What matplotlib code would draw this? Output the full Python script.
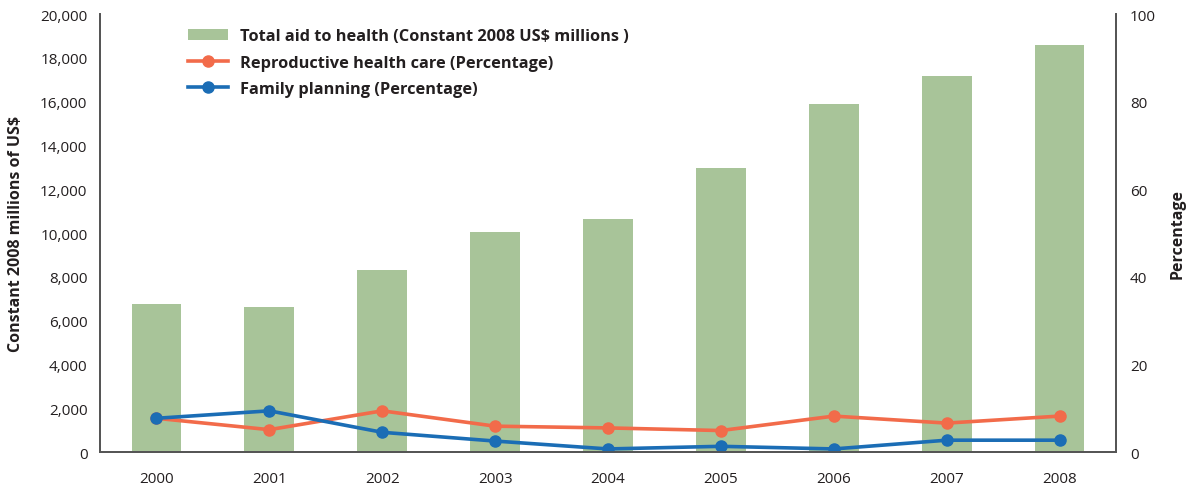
import matplotlib.pyplot as plt
import numpy as np

years = ["2000", "2001", "2002", "2003", "2004", "2005", "2006", "2007", "2008"]
total_aid = [6780, 6640, 8290, 10030, 10660, 12950, 15880, 17160, 18580]
reproductive = [7.7, 5.1, 9.4, 5.9, 5.5, 4.9, 8.2, 6.6, 8.2]
family_planning = [7.7, 9.4, 4.5, 2.5, 0.7, 1.3, 0.7, 2.7, 2.7]

GREEN = "#a8c499"
RED = "#f26b4a"
BLUE = "#1b6db5"
TXT = "#231f20"


def main():
    plt.rcParams["font.family"] = ["Open Sans", "DejaVu Sans"]
    fig = plt.figure(figsize=(11.93, 4.89), dpi=100)
    ax = fig.add_axes([0.0838, 0.0736, 0.8517, 0.8957])
    ax2 = ax.twinx()

    x = np.arange(len(years))
    bars = ax.bar(x, total_aid, width=0.44, color=GREEN, zorder=1,
                  label="Total aid to health (Constant 2008 US$ millions )")
    l1, = ax2.plot(x, reproductive, color=RED, lw=2.6, marker="o", ms=8,
                   label="Reproductive health care (Percentage)")
    l2, = ax2.plot(x, family_planning, color=BLUE, lw=2.6, marker="o", ms=8,
                   label="Family planning (Percentage)")

    ax.set_xlim(-0.5, 8.5)
    ax.set_ylim(0, 20000)
    ax2.set_ylim(0, 100)
    ax.set_xticks(x)
    ax.set_xticklabels(years)
    ax.set_yticks(np.arange(0, 20001, 2000))
    ax.set_yticklabels([f"{v:,}" for v in range(0, 20001, 2000)])
    ax2.set_yticks(np.arange(0, 101, 20))

    for a in (ax, ax2):
        a.spines["top"].set_visible(False)
        for s in ("left", "right", "bottom"):
            a.spines[s].set_color("#555555")
            a.spines[s].set_linewidth(1.3)
        a.tick_params(length=0, labelsize=11, labelcolor=TXT)
    ax.tick_params(axis="x", pad=14)
    ax.tick_params(axis="y", pad=9)
    ax2.tick_params(axis="y", pad=10)

    ax.set_ylabel("Constant 2008 millions of US$", fontsize=11.5,
                  fontweight="bold", color=TXT)
    ax.yaxis.set_label_coords(-0.075, 0.5)
    ax2.set_ylabel("Percentage", fontsize=11.5, fontweight="bold", color=TXT)
    ax2.yaxis.set_label_coords(1.053, 0.5)

    leg = ax2.legend([bars, l1, l2],
                     [bars.get_label(), l1.get_label(), l2.get_label()],
                     loc="upper left", bbox_to_anchor=(0.0866, 0.967),
                     frameon=False, fontsize=11.8, handlelength=2.45,
                     handletextpad=0.73, labelspacing=0.62, borderpad=0,
                     borderaxespad=0)
    for t in leg.get_texts():
        t.set_fontweight("bold")
        t.set_color(TXT)

    fig.savefig("out.png", dpi=100)


if __name__ == "__main__":
    main()
